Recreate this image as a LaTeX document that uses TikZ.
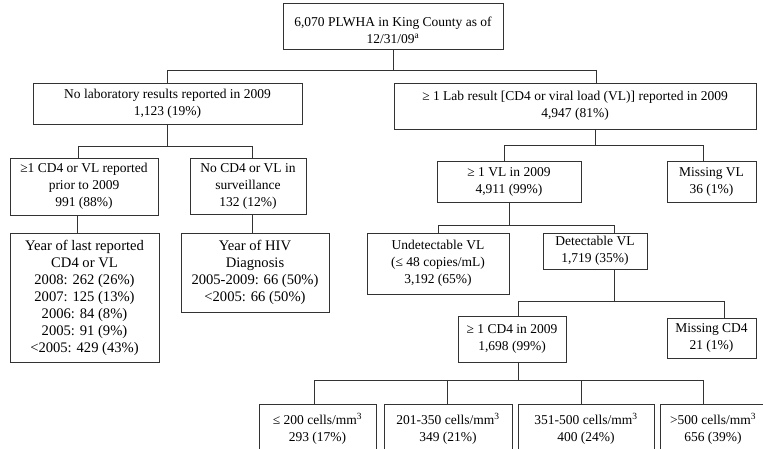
\documentclass[tikz,border=0pt]{standalone}
\usepackage{fontspec}
\setmainfont{Liberation Serif}
\usetikzlibrary{positioning,calc}
\definecolor{Line}{HTML}{333333}
\begin{document}
\begin{tikzpicture}[x=1pt,y=-1pt, box/.style={draw=Line,line width=0.8pt,align=center,inner sep=0pt,font=\fontsize{13.5}{17}\selectfont}, bigbox/.style={box,font=\fontsize{14.6}{17}\selectfont}, link/.style={draw=Line,line width=0.8pt}]
\useasboundingbox (0,0) rectangle (763,449);
\fill[white] (0,0) rectangle (763,449);
% level 0
\node[box,minimum width=220pt,minimum height=46pt] (top) at (393,26) {\rule{0pt}{19pt}6,070 PLWHA in King County as of\\12/31/09\textsuperscript{a}};
% level 1
\node[box,minimum width=269pt,minimum height=41pt] (nolab) at (167.5,103.5) {No laboratory results reported in 2009\\1,123 (19\%)};
\node[box,minimum width=362pt,minimum height=46pt] (lab) at (575,106) {≥ 1 Lab result [CD4 or viral load (VL)] reported in 2009\\4,947 (81\%)};
% left branch
\node[box,minimum width=148pt,minimum height=57pt] (prior) at (84,186.5) {≥1 CD4 or VL reported\\prior to 2009\\991 (88\%)};
\node[box,minimum width=116pt,minimum height=56pt] (nocd4) at (248,186) {No CD4 or VL in\\surveillance\\132 (12\%)};
\node[bigbox,minimum width=149pt,minimum height=129pt] (yearlast) at (84.5,297.5) {Year of last reported\\CD4 or VL\\2008: 262 (26\%)\\2007: 125 (13\%)\\2006: 84 (8\%)\\2005: 91 (9\%)\\<2005: 429 (43\%)};
\node[bigbox,minimum width=148pt,minimum height=79pt] (yearhiv) at (255,272.5) {Year of HIV\\Diagnosis\\2005-2009: 66 (50\%)\\<2005: 66 (50\%)};
% right branch
\node[box,minimum width=144pt,minimum height=41pt] (vl) at (509,181.5) {≥ 1 VL in 2009\\4,911 (99\%)};
\node[box,minimum width=89pt,minimum height=41pt] (missvl) at (711.5,181.5) {Missing VL\\36 (1\%)};
\node[box,minimum width=142pt,minimum height=61pt] (undet) at (438,263.5) {Undetectable VL\\(≤ 48 copies/mL)\\3,192 (65\%)};
\node[box,minimum width=104pt,minimum height=36pt] (det) at (595,251) {Detectable VL\\1,719 (35\%)};
\node[box,minimum width=108pt,minimum height=46pt] (cd4) at (512,339) {≥ 1 CD4 in 2009\\1,698 (99\%)};
\node[box,minimum width=89pt,minimum height=40pt] (misscd4) at (711.5,338) {Missing CD4\\21 (1\%)};
% CD4 strata
\node[box,minimum width=117pt,minimum height=50pt] (c1) at (317.5,429) {≤ 200 cells/mm\textsuperscript{3}\\293 (17\%)};
\node[box,minimum width=128pt,minimum height=50pt] (c2) at (448,429) {201-350 cells/mm\textsuperscript{3}\\349 (21\%)};
\node[box,minimum width=136pt,minimum height=50pt] (c3) at (586,429) {351-500 cells/mm\textsuperscript{3}\\400 (24\%)};
\node[box,minimum width=106pt,minimum height=50pt] (c4) at (713,429) {>500 cells/mm\textsuperscript{3}\\656 (39\%)};
% connectors
\draw[link] (top.south) -- ++(0,21) -| (nolab.north);
\draw[link] (top.south) -- ++(0,21) -| ([xshift=21pt]lab.north);
\draw[link] (nolab.south) -- ++(0,22) -| ([xshift=-6pt]prior.north);
\draw[link] (nolab.south) -- ++(0,22) -| ([xshift=4pt]nocd4.north);
\draw[link] ([xshift=-7pt]prior.south) -- ([xshift=-7.5pt]yearlast.north);
\draw[link] ([xshift=4pt]nocd4.south) -- ([xshift=-3pt]yearhiv.north);
\draw[link] ([xshift=20pt]lab.south) -- ++(0,16) -| ([xshift=-5pt]vl.north);
\draw[link] ([xshift=20pt]lab.south) -- ++(0,16) -| ([xshift=-8.5pt]missvl.north);
\draw[link] (vl.south) -- ++(0,23) -| (undet.north);
\draw[link] (vl.south) -- ++(0,23) -| ([xshift=19pt]det.north);
\draw[link] ([xshift=19pt]det.south) -- ++(0,32) -| ([xshift=6pt]cd4.north);
\draw[link] ([xshift=19pt]det.south) -- ++(0,32) -| ([xshift=12.5pt]misscd4.north);
\foreach \c/\s in {c1/-3.5,c2/-1,c3/-5,c4/-10}
  \draw[link] ([xshift=6pt]cd4.south) -- ++(0,18) -| ([xshift=\s pt]\c.north);
\end{tikzpicture}
\end{document}
